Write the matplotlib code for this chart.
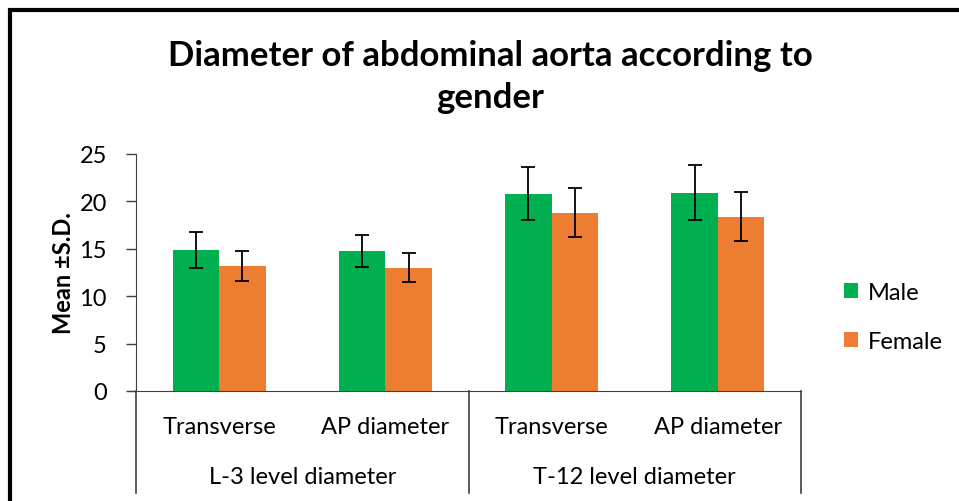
# Import necessary libraries
import numpy as np
import matplotlib.pyplot as plt
from matplotlib.patches import Rectangle
from matplotlib.transforms import blended_transform_factory

# Data (mean and S.D.)
groups = ['L-3 level diameter', 'T-12 level diameter']
measures = ['Transverse', 'AP diameter', 'Transverse', 'AP diameter']
male_mean = [14.9, 14.8, 20.8, 20.9]
male_sd = [1.9, 1.7, 2.8, 2.9]
female_mean = [13.2, 13.0, 18.8, 18.4]
female_sd = [1.6, 1.55, 2.6, 2.55]

plt.rcParams['font.family'] = ['Lato', 'DejaVu Sans']

fig = plt.figure(figsize=(9.59, 5.02), dpi=100)
ax = fig.add_axes([136/959, 1-392/502, (801-136)/959, (392-155)/502])

x = np.arange(len(measures))
w = 0.28
err_kw = dict(ecolor='black', elinewidth=1.3, capsize=5, capthick=1.3)
ax.bar(x - w/2, male_mean, w, yerr=male_sd, color='#00B050', label='Male', error_kw=err_kw)
ax.bar(x + w/2, female_mean, w, yerr=female_sd, color='#ED7D31', label='Female', error_kw=err_kw)

ax.set_xlim(-0.5, 3.5)
ax.set_ylim(0, 25)
ax.set_yticks(range(0, 26, 5))
ax.tick_params(axis='y', labelsize=17, length=7, width=1, color='#404040', pad=14)
ax.set_xticks([])
for s in ['top', 'right']:
    ax.spines[s].set_visible(False)
ax.spines['left'].set_color('#404040')
ax.spines['bottom'].set_color('#404040')
ax.spines['bottom'].set_bounds(-0.55, 3.5)

# two level category axis drawn by hand
trans = blended_transform_factory(ax.transData, ax.transAxes)
for xs in [-0.5, 1.5, 3.5]:
    ax.plot([xs, xs], [0, -0.43], transform=trans, color='#404040', lw=1.2, clip_on=False)
for i, m in enumerate(measures):
    ax.text(i, -0.148, m, transform=trans, ha='center', va='center', fontsize=17)
for j, g in enumerate(groups):
    ax.text(0.5 + 2*j, -0.36, g, transform=trans, ha='center', va='center', fontsize=17)

ax.set_ylabel('Mean \u00b1S.D.', fontsize=17, fontweight='bold', labelpad=3)

fig.text(490/959, 1-77/502, 'Diameter of abdominal aorta according to\ngender',
         ha='center', va='center', fontsize=25, fontweight='bold', linespacing=1.4)

fig.legend(loc='center left', bbox_to_anchor=(823/959, 1-318/502), frameon=False,
           fontsize=17, handlelength=0.6, handleheight=0.6, labelspacing=1.2,
           handletextpad=0.4)

# outer chart border (only left and top visible in the crop)
fig.patches.append(Rectangle((10/959, -0.1), 1.2, 1.1 - 11/502, transform=fig.transFigure,
                             fill=False, edgecolor='black', lw=3))

fig.savefig('out.png', dpi=100)
